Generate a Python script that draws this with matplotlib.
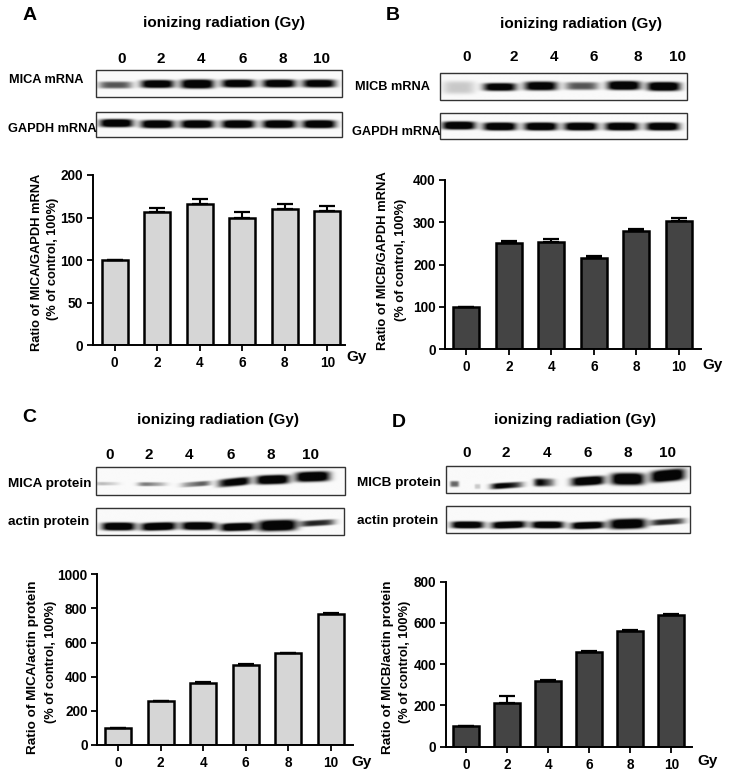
import numpy as np
import matplotlib
matplotlib.use('Agg')
import matplotlib.pyplot as plt
from matplotlib.patches import Rectangle

plt.rcParams['font.family'] = ['Liberation Sans', 'DejaVu Sans']
plt.rcParams['font.weight'] = 'bold'

W, H = 729, 778

doses = ['0', '2', '4', '6', '8', '10']
mica_mrna = [100, 157, 166, 150, 160, 158]
mica_mrna_err = [0, 4.5, 6, 6, 6, 6]
micb_mrna = [100, 250, 254, 215, 278, 303]
micb_mrna_err = [0, 6, 6, 5, 5, 6]
mica_prot = [100, 255, 362, 466, 537, 765]
mica_prot_err = [0, 5, 9, 7, 4, 10]
micb_prot = [100, 213, 319, 458, 563, 640]
micb_prot_err = [0, 32, 4, 4, 4, 5]

LIGHT = '#d6d6d6'
DARK = '#444444'

fig = plt.figure(figsize=(W / 100, H / 100), dpi=100)

# Calque en pixels pour les textes et les gels
page = fig.add_axes([0, 0, 1, 1])
page.set_xlim(0, W)
page.set_ylim(H, 0)
page.axis('off')


def bar_panel(values, errs, color, x_axis, x_end, y0, y_top, c0, c5, ymax, yticks):
    ax = fig.add_axes([x_axis / W, 1 - y0 / H, (x_end - x_axis) / W, (y0 - y_top) / H])
    step = (c5 - c0) / 5
    ax.set_xlim((x_axis - c0) / step, (x_end - c0) / step)
    ax.set_ylim(0, ymax)
    ax.bar(range(6), values, width=26 / step, color=color, edgecolor='black', linewidth=1.8)
    ax.errorbar(range(6), values, yerr=[np.zeros(6), errs], fmt='none', ecolor='black',
                elinewidth=1.5, capsize=5.7, capthick=1.6)
    ax.set_xticks(range(6))
    ax.set_xticklabels(doses)
    ax.set_yticks(yticks)
    ax.tick_params(length=4, width=1.3, labelsize=9.8, pad=3)
    ax.tick_params(axis='x', pad=4)
    for s in ['top', 'right']:
        ax.spines[s].set_visible(False)
    for s in ['left', 'bottom']:
        ax.spines[s].set_linewidth(1.4)
    ax.patch.set_alpha(0)


def gel(x0, x1, y0, y1, xs, ys, widths, heights, left, right, tilt=None):
    # Bandes floues dessinées dans une petite image en niveaux de gris
    nx, ny = int((x1 - x0) * 2), int((y1 - y0) * 2)
    px = np.linspace(x0, x1, nx)
    py = np.linspace(y0, y1, ny)
    X, Y = np.meshgrid(px, py)
    img = np.zeros_like(X)
    if tilt is None:
        tilt = [0] * len(xs)
    for i in range(len(xs)):
        u = (X - xs[i]) / (widths[i] / 2)
        v = (Y - ys[i] + tilt[i] * u) / (heights[i] / 2)
        strength = left[i] + (right[i] - left[i]) * np.clip((u + 1) / 2, 0, 1)
        img += 1.3 * strength * np.exp(-u**4) * np.exp(-v**4)
    img = 0.98 - np.clip(img, 0, 0.96)
    page.imshow(img, extent=[x0, x1, y1, y0], cmap='gray', vmin=0, vmax=1, aspect='auto',
                interpolation='bilinear', zorder=1)
    page.add_patch(Rectangle((x0, y0), x1 - x0, y1 - y0, fill=False, edgecolor='#333333',
                             linewidth=1, zorder=2))


# Histogrammes
bar_panel(mica_mrna, mica_mrna_err, LIGHT, 92.7, 345, 345.3, 175, 114.7, 327.3, 200, [0, 50, 100, 150, 200])
bar_panel(micb_mrna, micb_mrna_err, DARK, 445.3, 700.7, 349.3, 179.7, 466.3, 679, 400, [0, 100, 200, 300, 400])
bar_panel(mica_prot, mica_prot_err, LIGHT, 97.3, 352.7, 745, 574.3, 118, 330.7, 1000, [0, 200, 400, 600, 800, 1000])
bar_panel(micb_prot, micb_prot_err, DARK, 446, 691.7, 746.7, 581.7, 466, 671.3, 800, [0, 200, 400, 600, 800])

# Gels A
gel(95.7, 341.7, 70.3, 96.7, [115, 157, 197, 238, 279, 319], [85, 84, 84, 83.5, 83.5, 83.5],
    [33] * 6, [7, 8, 9, 8, 8, 8], [0.5, 0.95, 1, 0.95, 0.95, 0.9], [0.5, 0.95, 1, 0.95, 0.95, 0.9])
gel(95.7, 341.7, 111.7, 137, [116, 157, 197, 238, 279, 319], [123.5, 124.5, 124.5, 124.5, 124.5, 124.5],
    [33] * 6, [8] * 6, [1] * 6, [1] * 6)
# Gels B
gel(440.3, 687, 72.7, 100.3, [459, 500, 541, 582, 624, 664], [88, 87.5, 86.5, 86.5, 86, 87],
    [32, 33, 33, 33, 33, 33], [13, 8, 9, 8, 9, 9], [0.15, 0.9, 0.9, 0.5, 1, 1], [0.15, 0.9, 0.9, 0.5, 1, 1])
gel(440.3, 687, 113.3, 138.7, [459, 500, 541, 581, 622, 663], [125.5, 126.5, 126.5, 126.5, 126.5, 126.5],
    [33] * 6, [8] * 6, [1] * 6, [1] * 6)
# Gels C
gel(95.7, 345, 466.7, 495, [108, 153, 194, 233, 272, 312], [484, 484.5, 484.5, 482.5, 480, 477],
    [26, 30, 30, 32, 33, 34], [3.5, 4, 5, 8, 9, 10], [0.25, 0.5, 0.2, 0.7, 1, 1], [0.05, 0.12, 0.6, 1, 1, 1],
    [0, 0, 1, 1.5, 0.5, 0.5])
gel(95.7, 344, 507.7, 535.3, [118, 158, 198, 237, 277, 317], [527, 527, 526.5, 527.5, 526, 523.5],
    [33, 35, 34, 34, 38, 34], [8, 8, 8, 8, 11, 6], [1, 1, 1, 1, 1, 0.7], [1, 1, 1, 1, 1, 0.6],
    [0, 0.5, 0, 0.5, 0.5, 1])
# Gels D
gel(445.7, 690, 465.7, 493.3, [454, 477, 507, 545, 587, 627, 667], [484.5, 487, 486, 483, 481.5, 479.5, 476],
    [9, 6, 32, 22, 33, 33, 34], [6, 5, 6, 8, 9, 12, 12], [0.45, 0.15, 1, 1, 0.9, 1, 1],
    [0.45, 0.15, 0.5, 0.2, 1, 1, 1], [0, 0, 1, 0, 1, 0, 1.5])
gel(445.7, 690, 506, 533.3, [467, 508, 547, 587, 627, 667], [525.5, 525.5, 525.5, 526, 524.5, 522.5],
    [32, 34, 32, 33, 36, 34], [7, 7, 7, 7, 10, 6], [1, 1, 1, 1, 1, 0.7], [1, 1, 1, 1, 1, 0.6],
    [0, 0.5, 0, 0.5, 0.5, 1])


def t(x, y, s, size=9.5, ha='center', rot=0):
    page.text(x, y, s, fontsize=size, ha=ha, va='center', rotation=rot, zorder=5)


# Lettres des panneaux
t(30, 15, 'A', 14)
t(393, 15, 'B', 14)
t(29, 417, 'C', 14)
t(399, 422, 'D', 14)

# Titres
title = 'ionizing radiation (Gy)'
t(224, 23, title, 11)
t(581, 24, title, 11)
t(218, 420, title, 11)
t(575, 420, title, 11)

# Numéros des pistes
lanes_x = [[122, 161, 201, 243, 283, 322], [467, 514, 554, 594, 638, 678],
           [110, 149, 189, 231, 271, 311], [467, 506, 547, 588, 628, 668]]
lanes_y = [59, 57, 455, 453]
for xs, y in zip(lanes_x, lanes_y):
    for x, d in zip(xs, doses):
        t(x, y, d, 11)

# Noms des gels
t(9, 80, 'MICA mRNA', 9.2, 'left')
t(8, 129, 'GAPDH mRNA', 9.2, 'left')
t(355, 87, 'MICB mRNA', 9.2, 'left')
t(352, 132, 'GAPDH mRNA', 9.2, 'left')
t(8, 484, 'MICA protein', 9.7, 'left')
t(8, 522, 'actin protein', 9.7, 'left')
t(357, 483, 'MICB protein', 9.7, 'left')
t(357, 521, 'actin protein', 9.7, 'left')

# Titres des axes y
t(37, 262, 'Ratio of MICA/GAPDH mRNA', 9.3, rot=90)
t(53, 259, '(% of control, 100%)', 9.2, rot=90)
t(383, 261, 'Ratio of MICB/GAPDH mRNA', 9.4, rot=90)
t(401, 260, '(% of control, 100%)', 9.2, rot=90)
t(33, 667, 'Ratio of MICA/actin protein', 9.7, rot=90)
t(51, 662, '(% of control, 100%)', 9.2, rot=90)
t(388, 667, 'Ratio of MICB/actin protein', 9.7, rot=90)
t(405, 662, '(% of control, 100%)', 9.2, rot=90)

# Unité
t(357, 357, 'Gy', 11)
t(713, 365, 'Gy', 11)
t(362, 762, 'Gy', 11)
t(708, 761, 'Gy', 11)

page.set_xlim(0, W)
page.set_ylim(H, 0)
fig.savefig('out.png', dpi=100, facecolor='white')
